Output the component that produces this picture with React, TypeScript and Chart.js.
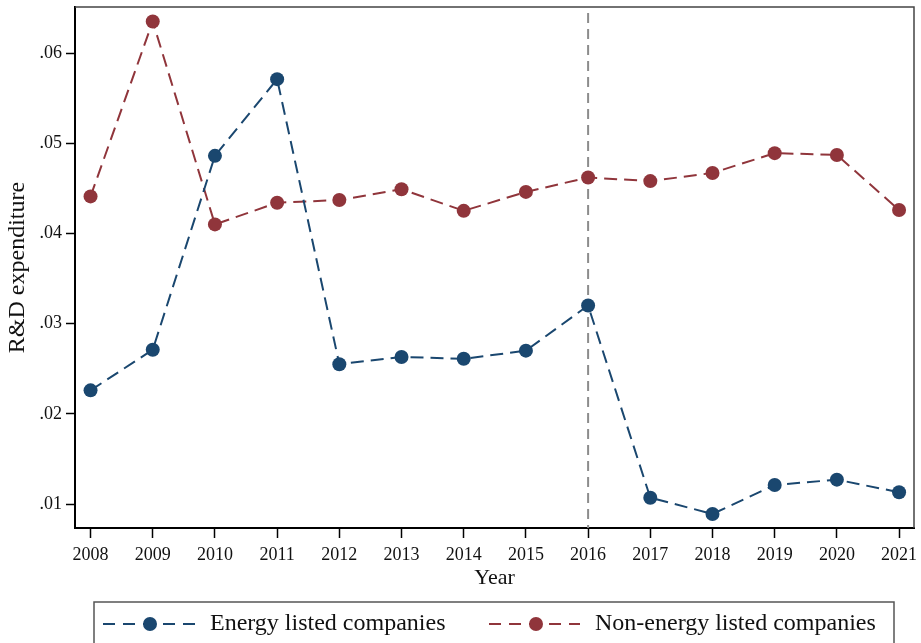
import React, { useEffect, useRef } from 'react';
import { Chart, registerables } from 'chart.js';

Chart.register(...registerables);

const years = [2008, 2009, 2010, 2011, 2012, 2013, 2014, 2015, 2016, 2017, 2018, 2019, 2020, 2021];
const energy = [0.0226, 0.0271, 0.0486, 0.0571, 0.0255, 0.0263, 0.0261, 0.0270, 0.0320, 0.0107, 0.0089, 0.0121, 0.0127, 0.0113];
const nonEnergy = [0.0441, 0.0635, 0.0410, 0.0434, 0.0437, 0.0449, 0.0425, 0.0446, 0.0462, 0.0458, 0.0467, 0.0489, 0.0487, 0.0426];
const yTicks = [0.01, 0.02, 0.03, 0.04, 0.05, 0.06];
const yTickLabels = ['.01', '.02', '.03', '.04', '.05', '.06'];
const seriesLabels = ['Energy listed companies', 'Non-energy listed companies'];
const markerYear = 2016;

const BLUE = '#1a476f';
const RED = '#90353b';
const FONT = 'Liberation Serif';

const decorPlugin = {
  id: 'decor',
  beforeDatasetsDraw(chart: any) {
    const { ctx, chartArea } = chart;
    const x = chart.scales.x.getPixelForValue(markerYear);
    ctx.save();
    ctx.strokeStyle = '#444';
    ctx.lineWidth = 1.5;
    ctx.beginPath();
    ctx.moveTo(chartArea.left, chartArea.top);
    ctx.lineTo(chartArea.right, chartArea.top);
    ctx.lineTo(chartArea.right, chartArea.bottom);
    ctx.stroke();
    ctx.strokeStyle = '#8c8c8c';
    ctx.lineWidth = 2;
    ctx.setLineDash([10, 6]);
    ctx.beginPath();
    ctx.moveTo(x, chartArea.top + 6);
    ctx.lineTo(x, chartArea.bottom);
    ctx.stroke();
    ctx.restore();
  },
  afterDraw(chart: any) {
    const { ctx } = chart;
    ctx.save();
    ctx.strokeStyle = '#555';
    ctx.lineWidth = 1.5;
    ctx.strokeRect(94, 602, 800, 60);
    const items = [
      { x0: 103, x1: 195, mx: 150, tx: 210 },
      { x0: 489, x1: 580, mx: 536, tx: 595 },
    ];
    const cy = 624;
    chart.data.datasets.forEach((ds: any, i: number) => {
      const it = items[i];
      ctx.strokeStyle = ds.borderColor;
      ctx.lineWidth = 2;
      ctx.setLineDash([12, 8]);
      ctx.beginPath();
      ctx.moveTo(it.x0, cy);
      ctx.lineTo(it.x1, cy);
      ctx.stroke();
      ctx.setLineDash([]);
      ctx.fillStyle = ds.pointBackgroundColor;
      ctx.beginPath();
      ctx.arc(it.mx, cy, 7, 0, Math.PI * 2);
      ctx.fill();
      ctx.fillStyle = '#111';
      ctx.font = `24px "${FONT}"`;
      ctx.textBaseline = 'middle';
      ctx.textAlign = 'left';
      ctx.fillText(ds.label, it.tx, cy);
    });
    ctx.restore();
  },
};

export default function App() {
  const ref = useRef<HTMLCanvasElement | null>(null);
  useEffect(() => {
    if (!ref.current) return;
    const mk = (vals: number[]) => years.map((y, i) => ({ x: y, y: vals[i] }));
    const chart = new Chart(ref.current, {
      type: 'line',
      data: {
        datasets: [
          {
            label: seriesLabels[0],
            data: mk(energy),
            borderColor: BLUE,
            backgroundColor: BLUE,
            pointBackgroundColor: BLUE,
            pointBorderWidth: 0,
            pointRadius: 7,
            borderWidth: 2,
            borderDash: [13, 7],
            tension: 0,
          },
          {
            label: seriesLabels[1],
            data: mk(nonEnergy),
            borderColor: RED,
            backgroundColor: RED,
            pointBackgroundColor: RED,
            pointBorderWidth: 0,
            pointRadius: 7,
            borderWidth: 2,
            borderDash: [13, 7],
            tension: 0,
          },
        ],
      },
      options: {
        responsive: false,
        animation: false,
        layout: { padding: { left: 0, right: 7, top: 7, bottom: 43 } },
        plugins: { legend: { display: false }, tooltip: { enabled: false } },
        scales: {
          x: {
            type: 'linear',
            min: 2007.75,
            max: 2021.24,
            afterBuildTicks: (s: any) => { s.ticks = years.map((v) => ({ value: v })); },
            afterFit: (s: any) => { s.height = 72; s.paddingLeft = 0; s.paddingRight = 0; },
            ticks: {
              autoSkip: false,
              maxRotation: 0,
              padding: 6,
              color: '#111',
              font: { family: FONT, size: 18 },
              callback: (v: any) => String(v),
            },
            grid: { display: true, drawOnChartArea: false, drawTicks: true, tickLength: 10, tickColor: '#000', tickWidth: 1.5 },
            border: { display: true, color: '#000', width: 2 },
            title: { display: true, text: 'Year', color: '#111', font: { family: FONT, size: 22 }, padding: { top: 0, bottom: 9 } },
          },
          y: {
            type: 'linear',
            min: 0.00734,
            max: 0.0651,
            afterBuildTicks: (s: any) => { s.ticks = yTicks.map((v) => ({ value: v })); },
            afterFit: (s: any) => { s.width = 75; s.paddingTop = 0; s.paddingBottom = 0; },
            ticks: {
              padding: 4,
              color: '#111',
              font: { family: FONT, size: 18 },
              callback: (_v: any, i: number) => yTickLabels[i] ?? '',
            },
            grid: { display: true, drawOnChartArea: false, drawTicks: true, tickLength: 9, tickColor: '#000', tickWidth: 1.5 },
            border: { display: true, color: '#000', width: 2 },
            title: { display: true, text: 'R&D expenditure', color: '#111', font: { family: FONT, size: 24 }, padding: { top: 3, bottom: 0 } },
          },
        },
      },
      plugins: [decorPlugin],
    });
    return () => chart.destroy();
  }, []);
  return (
    <div style={{ position: 'fixed', left: 0, top: 0, width: 921, height: 643, background: '#fff' }}>
      <canvas ref={ref} width={921} height={643} style={{ width: 921, height: 643 }} />
    </div>
  );
}
